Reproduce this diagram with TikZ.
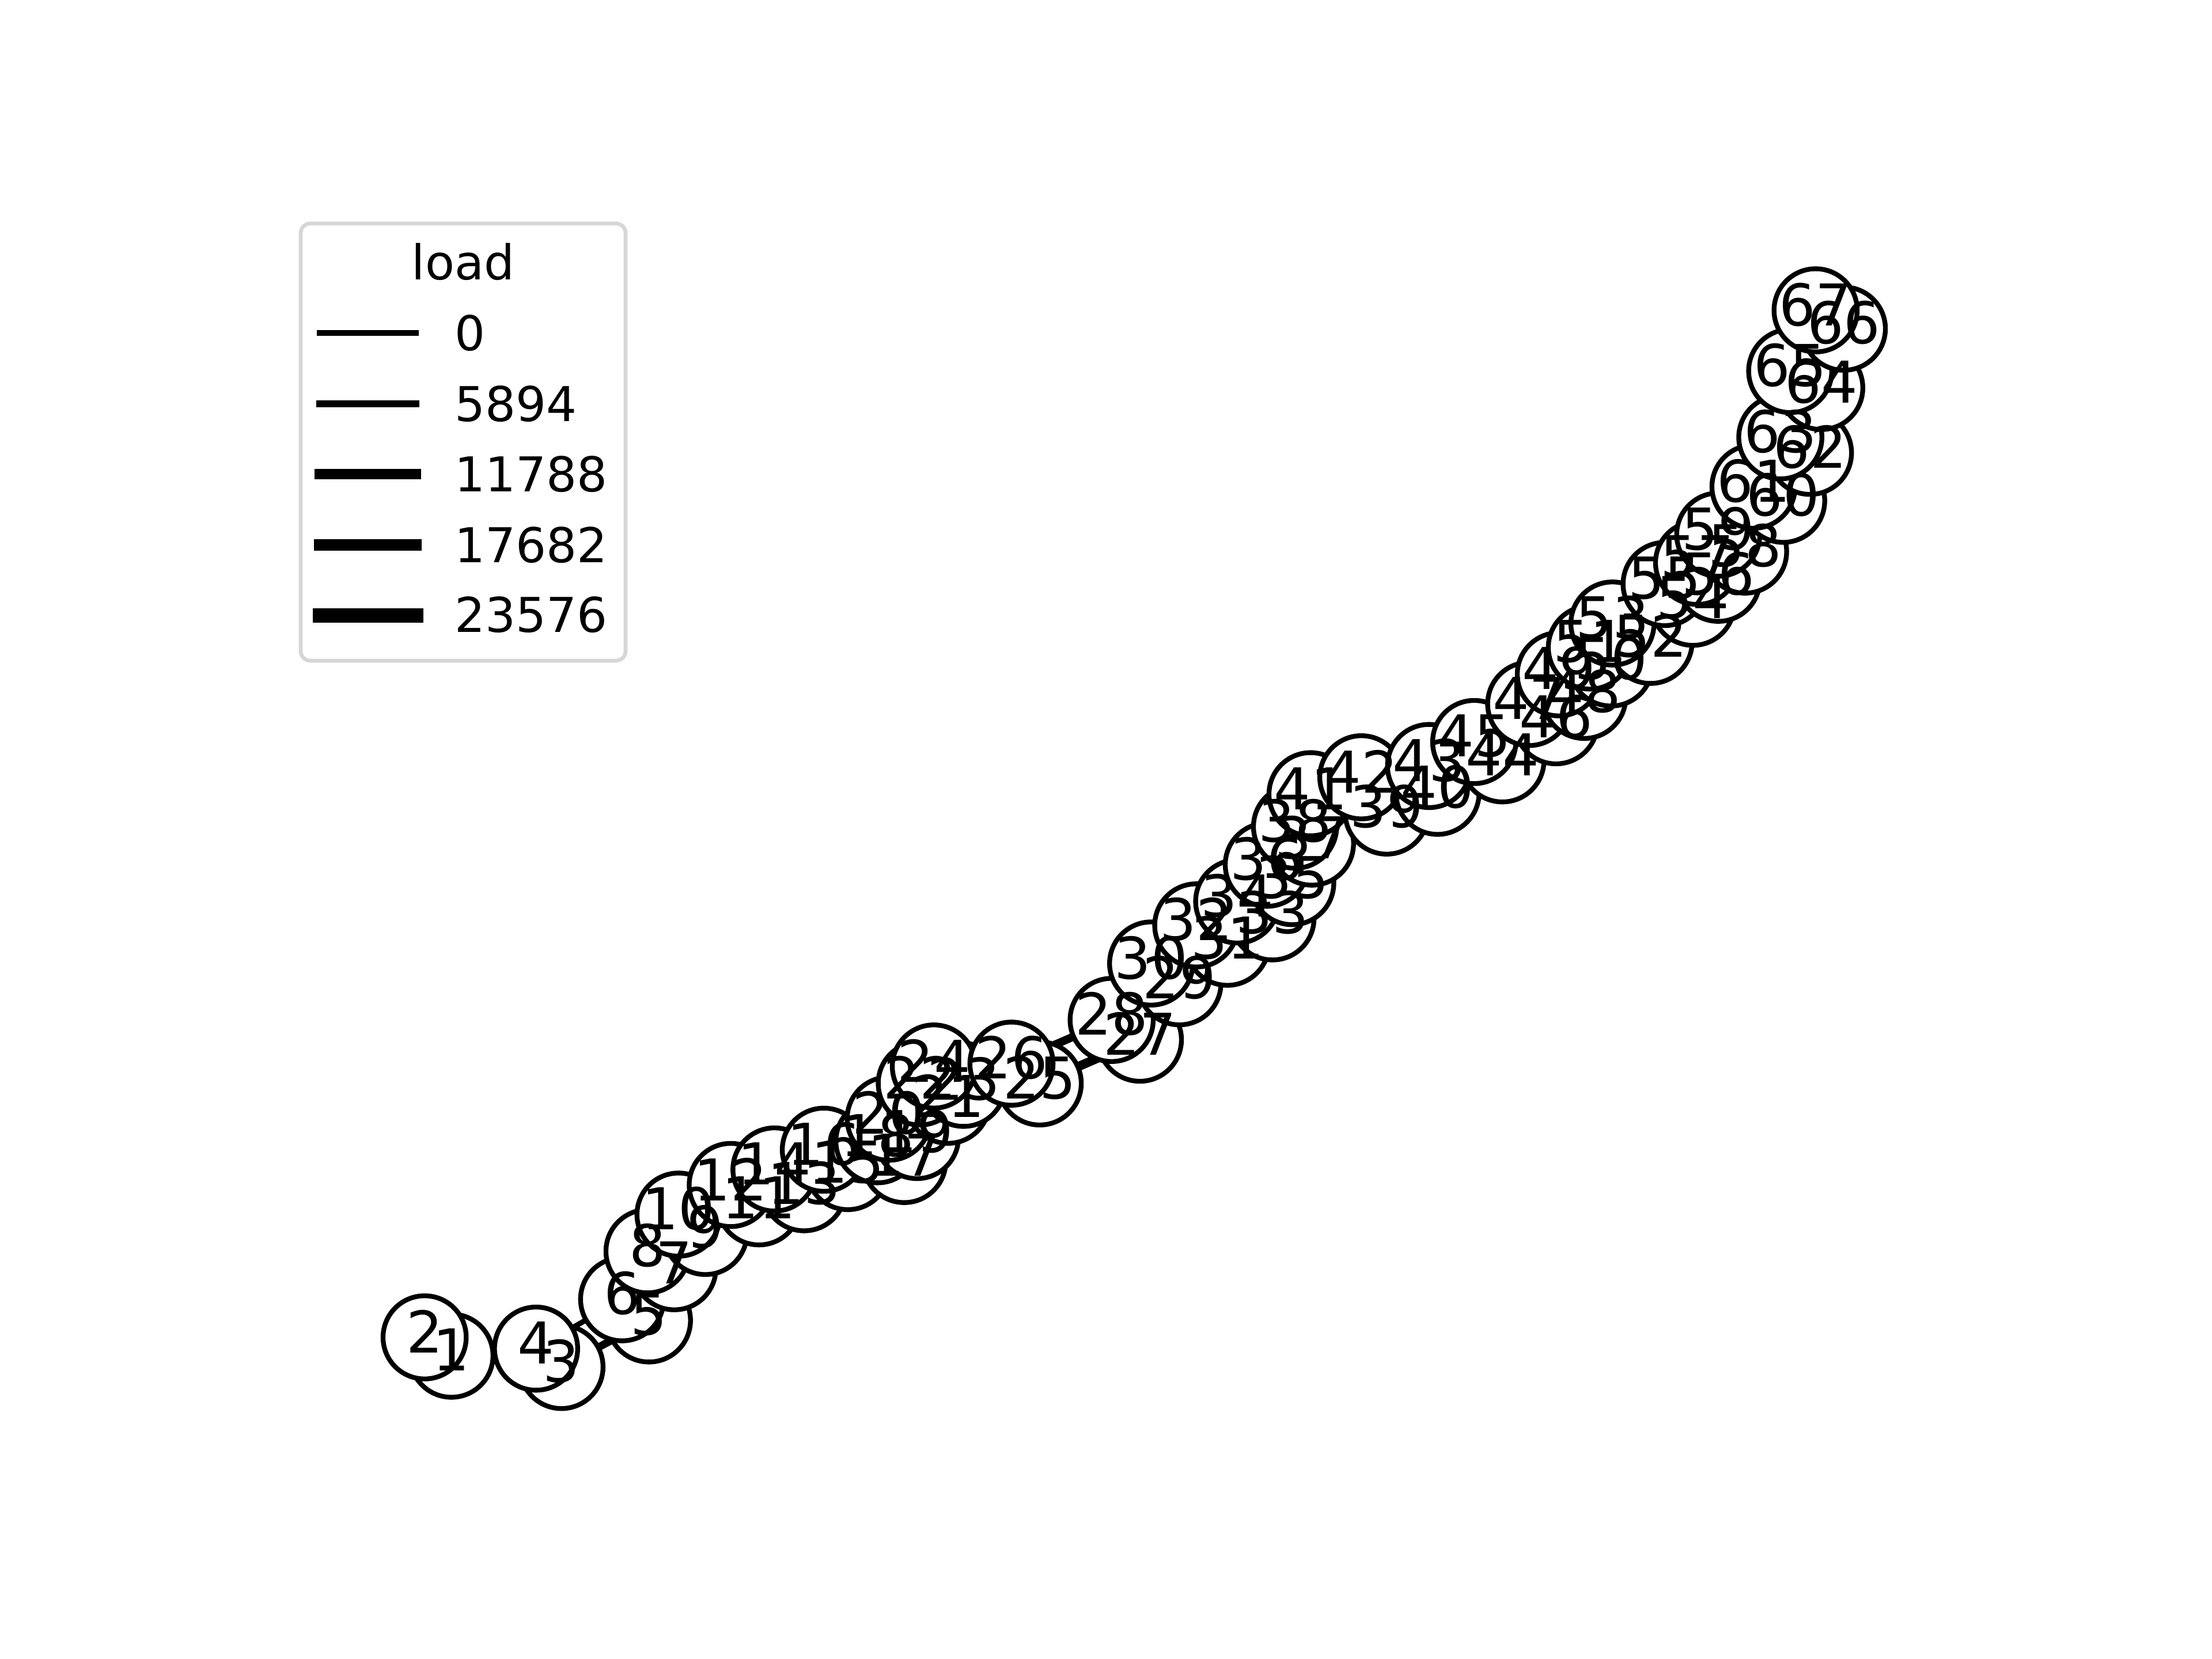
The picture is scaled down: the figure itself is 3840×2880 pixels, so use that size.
\documentclass[tikz,border=0pt]{standalone}
\usepackage{fontspec}
\setmainfont{DejaVu Sans}
\pgfdeclarelayer{bg}
\pgfsetlayers{bg,main}
\definecolor{legendgray}{RGB}{214,214,214}
\begin{document}
\begin{tikzpicture}[x=0.12pt,y=-0.12pt,
  bus/.style={circle,draw=black,fill=white,line width=1pt,minimum size=17.32pt,inner sep=0pt},
  lbl/.style={font=\fontsize{12}{14}\selectfont,inner sep=0pt,yshift=1.2pt},
  ln/.style={line width=#1, black},
  legline/.style={line width=#1, black, line cap=rect},
  legtxt/.style={font=\fontsize{10}{12}\selectfont,inner sep=0pt,anchor=base west}]
\useasboundingbox (0,0) rectangle (3840,2880);
\begin{scope}[scale=2.44898]
\foreach \n/\x/\y in {1/320/958,2/301/945,3/398/966,4/380/953,5/460/933,6/441/918,
  7/478/896,8/459/884,9/500/871,10/481/858,11/538/850,12/518/837,13/570/840,14/549/826,
  15/601/825,16/584/812,17/641/820,18/622/806,19/650/803,20/630/790,21/672/778,22/652/765,
  23/683/766,24/662/753,25/737/765,26/717/751,27/808/734,28/788/720,29/836/694,30/816/680,
  31/870/666,32/848/653,33/902/648,34/877/636,35/916/623,36/898/610,37/930/595,38/918/583,
  39/983/573,40/1019/559,41/929/560,42/965/548,43/1013/540,44/1065/536,45/1045/523,
  46/1103/509,47/1084/496,48/1123/491,49/1105/475,50/1142/468,51/1127/456,52/1170/452,
  53/1143/439,54/1200/425,55/1180/411,56/1218/408,57/1203/396,58/1237/388,59/1218/376,
  60/1264/352,61/1243/342,62/1283/318,63/1262/307,64/1291/272,65/1269/260,66/1307/230,
  67/1287/217}
  \coordinate (p\n) at (\x,\y+3);
\end{scope}
% buses, later ones on top
\foreach \n in {1,...,67} \node[bus] (n\n) at (p\n) {};
% lines (behind the buses)
\begin{pgfonlayer}{bg}
\foreach \a/\b/\w in {1/3/1.5,3/5/1.6,5/7/1.5,7/9/1.5,9/11/1.5,11/13/1.5,13/15/1.5,15/17/1.5,
  17/19/1.5,19/21/1.5,21/23/1.5,23/25/1.5,25/27/1.9,27/29/1.5,29/31/1.5,31/33/1.5,33/35/1.5,
  35/37/1.5,37/39/1.5,39/41/1.5,41/43/1.5,43/45/1.5,45/47/1.5,47/49/1.5,49/51/1.5,51/53/1.5,
  53/55/1.5,55/57/1.5,57/59/1.5,59/61/1.5,61/63/1.5,63/65/1.5,65/67/1.5,
  2/4/1.2,4/6/1.1,6/8/1.2,8/10/1.2,10/12/1.2,12/14/1.2,14/16/1.2,16/18/1.2,18/20/1.2,
  20/22/1.2,22/24/1.2,24/26/1.5,26/28/1.7,28/30/1.5,30/32/1.2,32/34/1.2,34/36/1.2,36/38/1.2,
  38/40/1.2,40/42/1.2,42/44/1.2,44/46/1.2,46/48/1.2,48/50/1.2,50/52/1.2,52/54/1.2,54/56/1.2,
  56/58/1.2,58/60/1.2,60/62/1.2,62/64/1.2,64/66/1.2}
  \draw[ln=\w pt] (n\a.center) -- (n\b.center);
\end{pgfonlayer}
% labels on top of every bus
\foreach \n in {1,...,67} \node[lbl] (t\n) at (n\n.center) {\n};
% legend
\draw[draw=legendgray,line width=0.8pt,fill=white,rounded corners=2pt] (522,388) rectangle (1086,1147);
\node[font=\fontsize{10}{12}\selectfont,inner sep=0pt,anchor=base] (legtitle) at (804,486) {load};
\foreach \y/\b/\w/\t in {578/609/1.2/0,701/732/1.55/5894,823/854/2.05/11788,946/977/2.5/17682,1069/1098/3.0/23576}{
  \draw[legline=\w pt] (555,\y) -- (722,\y);
  \node[legtxt] at (788,\b) {\t};
}
\end{tikzpicture}
\end{document}
